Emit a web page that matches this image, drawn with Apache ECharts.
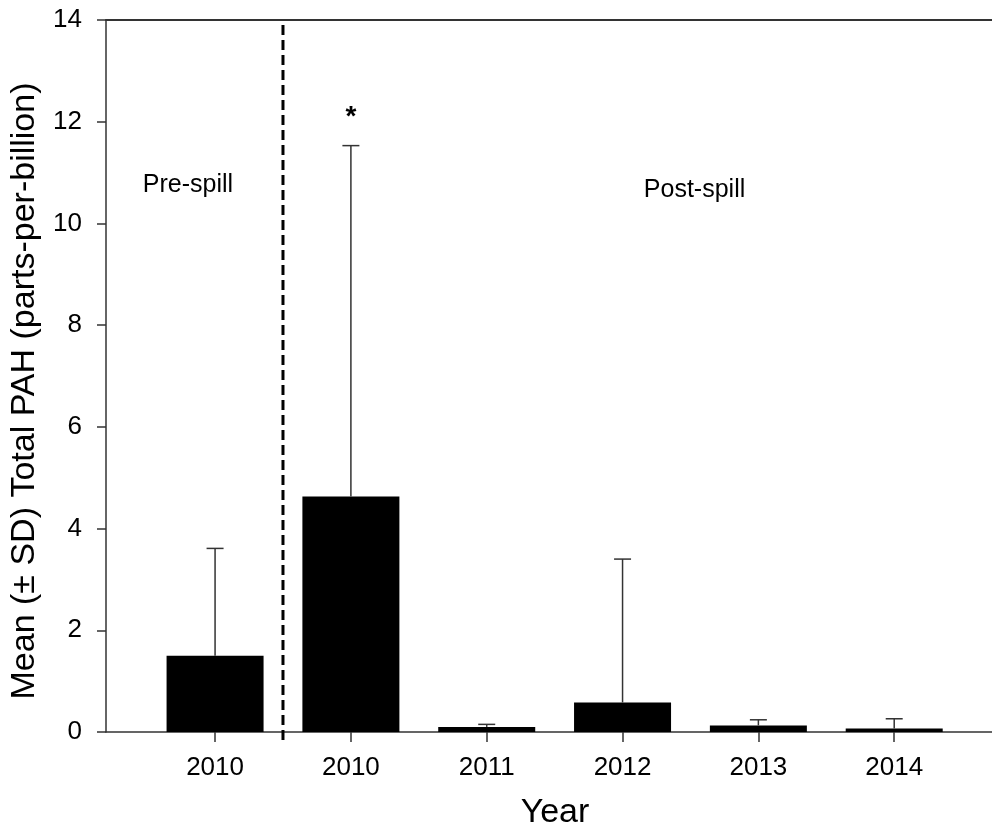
<!DOCTYPE html>
<html>
<head>
<meta charset="utf-8">
<script src="https://cdn.jsdelivr.net/npm/echarts@6/dist/echarts.min.js"></script>
<style>
html,body{margin:0;padding:0;background:#fff;}
#chart{width:992px;height:833px;}
</style>
</head>
<body>
<div id="chart"></div>
<script>
// ---- data ----
const categories = ['2010', '2010', '2011', '2012', '2013', '2014'];
const means = [1.50, 4.63, 0.10, 0.58, 0.13, 0.07];
const sds = [2.11, 6.90, 0.05, 2.82, 0.11, 0.19];
const yTicks = [0, 2, 4, 6, 8, 10, 12, 14];
const annotationTexts = ['Pre-spill', 'Post-spill', '*'];
const annotationX = [-0.2, 3.53, 1];
const annotationY = [10.76, 10.66, 12.09];
const spillDivider = 0.5;   // between the pre- and post-spill groups
const dividerTop = 13.9;

const FONT = "'Liberation Sans', Arial, sans-serif";
const AXIS_COLOR = '#333';

const barData = means.map((m, i) => [i, m]);
const errData = means.map((m, i) => [i, m, m + sds[i]]);
const annData = annotationTexts.map((t, i) => [annotationX[i], annotationY[i]]);

const chart = echarts.init(document.getElementById('chart'), null, {renderer: 'canvas'});

const option = {
  backgroundColor: '#fff',
  animation: false,
  grid: {left: 106, right: 0, top: 20, bottom: 101, containLabel: false, outerBoundsMode: 'none'},
  xAxis: [{
    type: 'value',
    min: -0.803,
    max: 5.72,
    position: 'bottom',
    name: 'Year',
    nameLocation: 'middle',
    nameGap: 64,
    nameTextStyle: {fontFamily: FONT, fontSize: 34, color: '#000', padding: [0, 0, 0, 12]},
    axisLine: {show: true, onZero: false, lineStyle: {color: AXIS_COLOR, width: 1.5}},
    axisTick: {show: true, inside: false, length: 10, customValues: categories.map((c, i) => i),
               lineStyle: {color: AXIS_COLOR, width: 1.5}},
    axisLabel: {show: true, margin: 23, customValues: categories.map((c, i) => i),
                formatter: v => categories[Math.round(v)] ?? '',
                fontFamily: FONT, fontSize: 26, color: '#000'},
    splitLine: {show: false}
  }, {
    type: 'value',
    min: -0.803,
    max: 5.72,
    position: 'top',
    axisLine: {show: true, onZero: false, lineStyle: {color: AXIS_COLOR, width: 2}},
    axisTick: {show: false},
    axisLabel: {show: false},
    splitLine: {show: false}
  }],
  yAxis: {
    type: 'value',
    min: yTicks[0],
    max: yTicks[yTicks.length - 1],
    interval: yTicks[1] - yTicks[0],
    name: 'Mean (± SD) Total PAH (parts-per-billion)',
    nameLocation: 'middle',
    nameGap: 64,
    nameTextStyle: {fontFamily: FONT, fontSize: 34, color: '#000', padding: [0, 30, 0, 0]},
    axisLine: {show: true, onZero: false, lineStyle: {color: AXIS_COLOR, width: 1.5}},
    axisTick: {show: true, inside: false, length: 9, lineStyle: {color: AXIS_COLOR, width: 1.5}},
    axisLabel: {margin: 24, fontFamily: FONT, fontSize: 26, color: '#000'},
    splitLine: {show: false}
  },
  series: [
    {
      type: 'bar',
      data: barData,
      barWidth: 97,
      itemStyle: {color: '#000'},
      z: 2
    },
    {
      type: 'custom',
      data: errData,
      z: 3,
      renderItem: function (params, api) {
        const x = api.value(0);
        const lo = api.coord([x, api.value(1)]);
        const hi = api.coord([x, api.value(2)]);
        const cap = 8.5;
        const st = {stroke: AXIS_COLOR, lineWidth: 1.5};
        return {
          type: 'group',
          children: [
            {type: 'line', shape: {x1: lo[0], y1: lo[1], x2: hi[0], y2: hi[1]}, style: st},
            {type: 'line', shape: {x1: hi[0] - cap, y1: hi[1], x2: hi[0] + cap, y2: hi[1]}, style: st}
          ]
        };
      }
    },
    {
      type: 'custom',
      data: [[spillDivider, dividerTop]],
      z: 4,
      clip: false,
      renderItem: function (params, api) {
        const top = api.coord([api.value(0), api.value(1)]);
        const bot = api.coord([api.value(0), 0]);
        return {
          type: 'line',
          shape: {x1: top[0], y1: top[1], x2: bot[0], y2: bot[1] + 10},
          style: {stroke: '#000', lineWidth: 3, lineDash: [10, 5]}
        };
      }
    },
    {
      type: 'custom',
      data: annData,
      z: 5,
      clip: false,
      renderItem: function (params, api) {
        const p = api.coord([api.value(0), api.value(1)]);
        const t = annotationTexts[params.dataIndex];
        const isStar = t === '*';
        return {
          type: 'text',
          x: p[0], y: p[1],
          style: {
            text: t,
            fill: '#000',
            font: (isStar ? 'bold 28px ' : '25px ') + FONT,
            align: 'center',
            verticalAlign: 'middle'
          }
        };
      }
    }
  ]
};
chart.setOption(option);
</script>
</body>
</html>
